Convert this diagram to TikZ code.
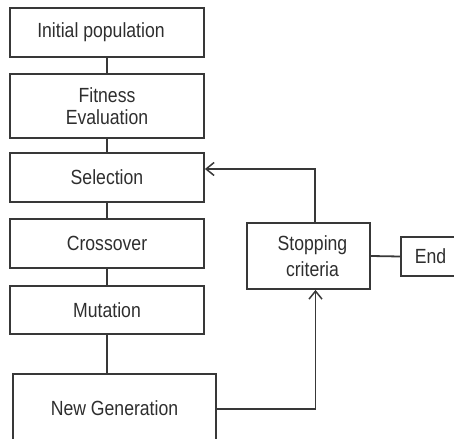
\documentclass[tikz,border=0pt]{standalone}
\usepackage{fontspec}
\setmainfont[FakeStretch=0.86]{Liberation Sans}
\usetikzlibrary{arrows.meta}
\begin{document}
\begin{tikzpicture}[x=1pt,y=-1pt,
  box/.style={draw=linegray,line width=1.8pt,rectangle,inner sep=0pt,align=center,
    text=textgray,font=\fontsize{20.5}{22}\selectfont},
  conn/.style={draw=linegray,line width=1.8pt},
  arr/.style={conn,-{Straight Barb[length=8pt,width=13pt,line width=1.5pt]}}]
\definecolor{linegray}{HTML}{383838}
\definecolor{textgray}{HTML}{2E2E2E}
\useasboundingbox (0,0) rectangle (454,438);
\node[box,minimum width=194pt,minimum height=49pt] (init) at (107,32.5) {\hspace*{-12pt}Initial population};
\node[box,minimum width=194pt,minimum height=64pt] (fit) at (107,106) {Fitness\\Evaluation};
\node[box,minimum width=194pt,minimum height=49pt] (sel) at (107,177.5) {Selection};
\node[box,minimum width=194pt,minimum height=49pt] (cross) at (107,243.5) {Crossover};
\node[box,minimum width=194pt,minimum height=48pt] (mut) at (107,310) {Mutation};
\node[box,minimum width=203pt,minimum height=68pt] (newgen) at (114.5,408) {New Generation};
\node[box,minimum width=123pt,minimum height=66pt,font=\fontsize{20.5}{26}\selectfont] (stop) at (308.5,256) {\hspace*{8pt}Stopping\\\hspace*{8pt}criteria};
\node[box,minimum width=59pt,minimum height=39pt] (end) at (430.5,256.5) {End};
\draw[conn] (init.south) -- (fit.north);
\draw[conn] (fit.south) -- (sel.north);
\draw[conn] (sel.south) -- (cross.north);
\draw[conn] (cross.south) -- (mut.north);
\draw[conn] (mut.south) -- (mut.south |- newgen.north);
\draw[conn] (stop.east) -- (end.west);
\draw[arr] ([xshift=6.5pt]stop.north) |- ([yshift=8.5pt]sel.east);
\draw[arr] ([yshift=-1pt]newgen.east) -| ([xshift=7pt]stop.south);
\end{tikzpicture}
\end{document}
